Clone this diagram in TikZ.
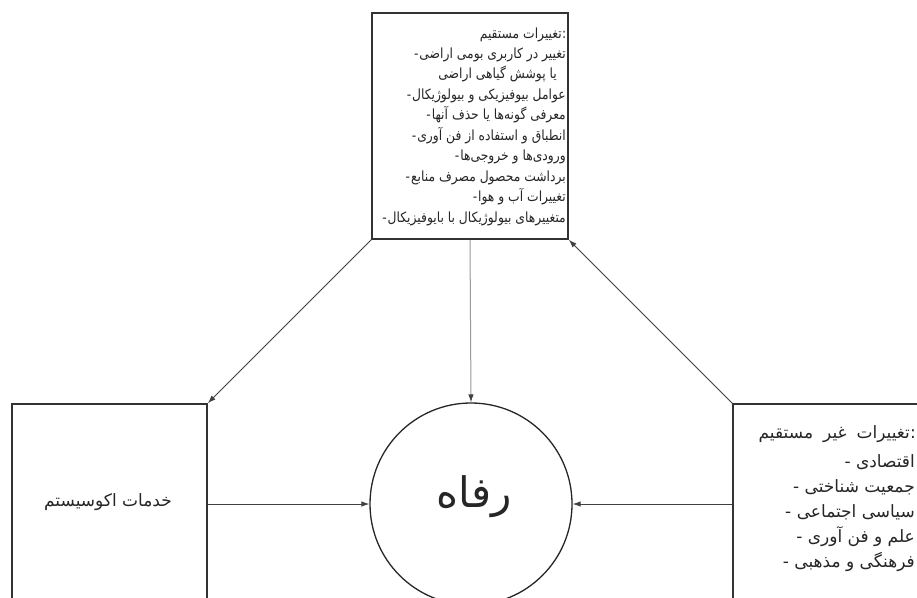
\documentclass[tikz,border=0pt]{standalone}
\usepackage{fontspec}
\TeXXeTstate=1
\newfontfamily\arfont[Script=Arabic]{DejaVu Sans}
\newfontfamily\arcond[Script=Arabic,FakeStretch=0.88]{DejaVu Sans}
\usetikzlibrary{arrows.meta}
\tikzset{
  frame/.style={draw=black!80, line width=1.6pt, inner sep=0pt},
  conn/.style={draw=black!75, line width=0.9pt, -{Latex[length=8pt,width=5.5pt]}},
  greyconn/.style={draw=black!40, line width=1pt, -{Latex[length=8pt,width=5.5pt,color=black!75]}},
  txt/.style={inner sep=0pt, text=black!85},
  tline/.style={txt, anchor=base east, font=\arcond\fontsize{14}{16}\selectfont},
  tdash/.style={txt, anchor=base east, font=\arcond\fontsize{14}{16}\selectfont, xshift=-0.5pt},
  rline/.style={txt, anchor=base east, font=\arfont\fontsize{17}{20}\selectfont},
  rdash/.style={txt, anchor=base east, font=\arfont\fontsize{17}{20}\selectfont, xshift=-5pt},
}
\begin{document}
\begin{tikzpicture}[x=1pt,y=-1pt]
\useasboundingbox (0,0) rectangle (917,597);
\clip (0,0) rectangle (917,597);
\fill[white] (0,0) rectangle (917,597);
% boxes
\node[frame, minimum width=196pt, minimum height=226pt] (top) at (470,126) {};
\node[frame, minimum width=195pt, minimum height=200pt] (left) at (109.5,504) {};
\node[frame, minimum width=200pt, minimum height=200pt] (right) at (833,504) {};
\node[draw=black!85, line width=1.3pt, circle, minimum size=202pt, inner sep=0pt] (circ) at (471,504) {};
% top box text
\node[tline] (t0) at (562,38) {\beginR تغییرات مستقیم\endR};
\node[txt, anchor=base west, font=\arcond\fontsize{14}{16}\selectfont] (t0c) at (t0.base east) {:};
\node[tline] (t1) at (566,58) {\beginR تغییر در کاربری بومی اراضی\endR};
\node[tdash] (h1) at (t1.base west) {-};
\node[tline] (t2) at (557,78.5) {\beginR یا پوشش گیاهی اراضی\endR};
\node[tline] (t3) at (566,99) {\beginR عوامل بیوفیزیکی و بیولوژیکال\endR};
\node[tdash] (h3) at (t3.base west) {-};
\node[tline] (t4) at (566,119.5) {\beginR معرفی گونه‌ها یا حذف آنها\endR};
\node[tdash] (h4) at (t4.base west) {-};
\node[tline] (t5) at (566,140) {\beginR انطباق و استفاده از فن آوری\endR};
\node[tdash] (h5) at (t5.base west) {-};
\node[tline] (t6) at (566,160.5) {\beginR ورودی‌ها و خروجی‌ها\endR};
\node[tdash] (h6) at (t6.base west) {-};
\node[tline] (t7) at (566,181) {\beginR برداشت محصول مصرف منابع\endR};
\node[tdash] (h7) at (t7.base west) {-};
\node[tline] (t8) at (566,201.5) {\beginR تغییرات آب و هوا\endR};
\node[tdash] (h8) at (t8.base west) {-};
\node[tline] (t9) at (566,222) {\beginR متغییرهای بیولوژیکال با بایوفیزیکال\endR};
\node[tdash] (h9) at (t9.base west) {-};
% right box text
\node[rline] (r0) at (910,438) {\beginR تغییرات\hskip 10pt غیر\hskip 10pt مستقیم\endR};
\node[txt, anchor=base west, font=\arfont\fontsize{17}{20}\selectfont] (r0c) at (r0.base east) {:};
\node[rline] (r1) at (915,467) {\beginR اقتصادی\endR};
\node[rdash] (g1) at (r1.base west) {-};
\node[rline] (r2) at (915,492) {\beginR جمعیت شناختی\endR};
\node[rdash] (g2) at (r2.base west) {-};
\node[rline] (r3) at (915,517) {\beginR سیاسی اجتماعی\endR};
\node[rdash] (g3) at (r3.base west) {-};
\node[rline] (r4) at (915,542) {\beginR علم و فن آوری\endR};
\node[rdash] (g4) at (r4.base west) {-};
\node[rline] (r5) at (915,567) {\beginR فرهنگی و مذهبی\endR};
\node[rdash] (g5) at (r5.base west) {-};
% left and circle text
\node[txt, font=\arfont\fontsize{17}{20}\selectfont] (lefttext) at (108,502) {\beginR خدمات اکوسیستم\endR};
\node[txt, font=\arfont\fontsize{42}{46}\selectfont] (circtext) at (474,497) {\beginR رفاه\endR};
% connectors
\draw[greyconn] (top.south) -- (circ.north);
\draw[conn] (top.south west) -- (left.north east);
\draw[conn] (right.north west) -- (top.south east);
\draw[conn] (left.east) -- (circ.west);
\draw[conn] (right.west) -- (circ.east);
\end{tikzpicture}
\end{document}
